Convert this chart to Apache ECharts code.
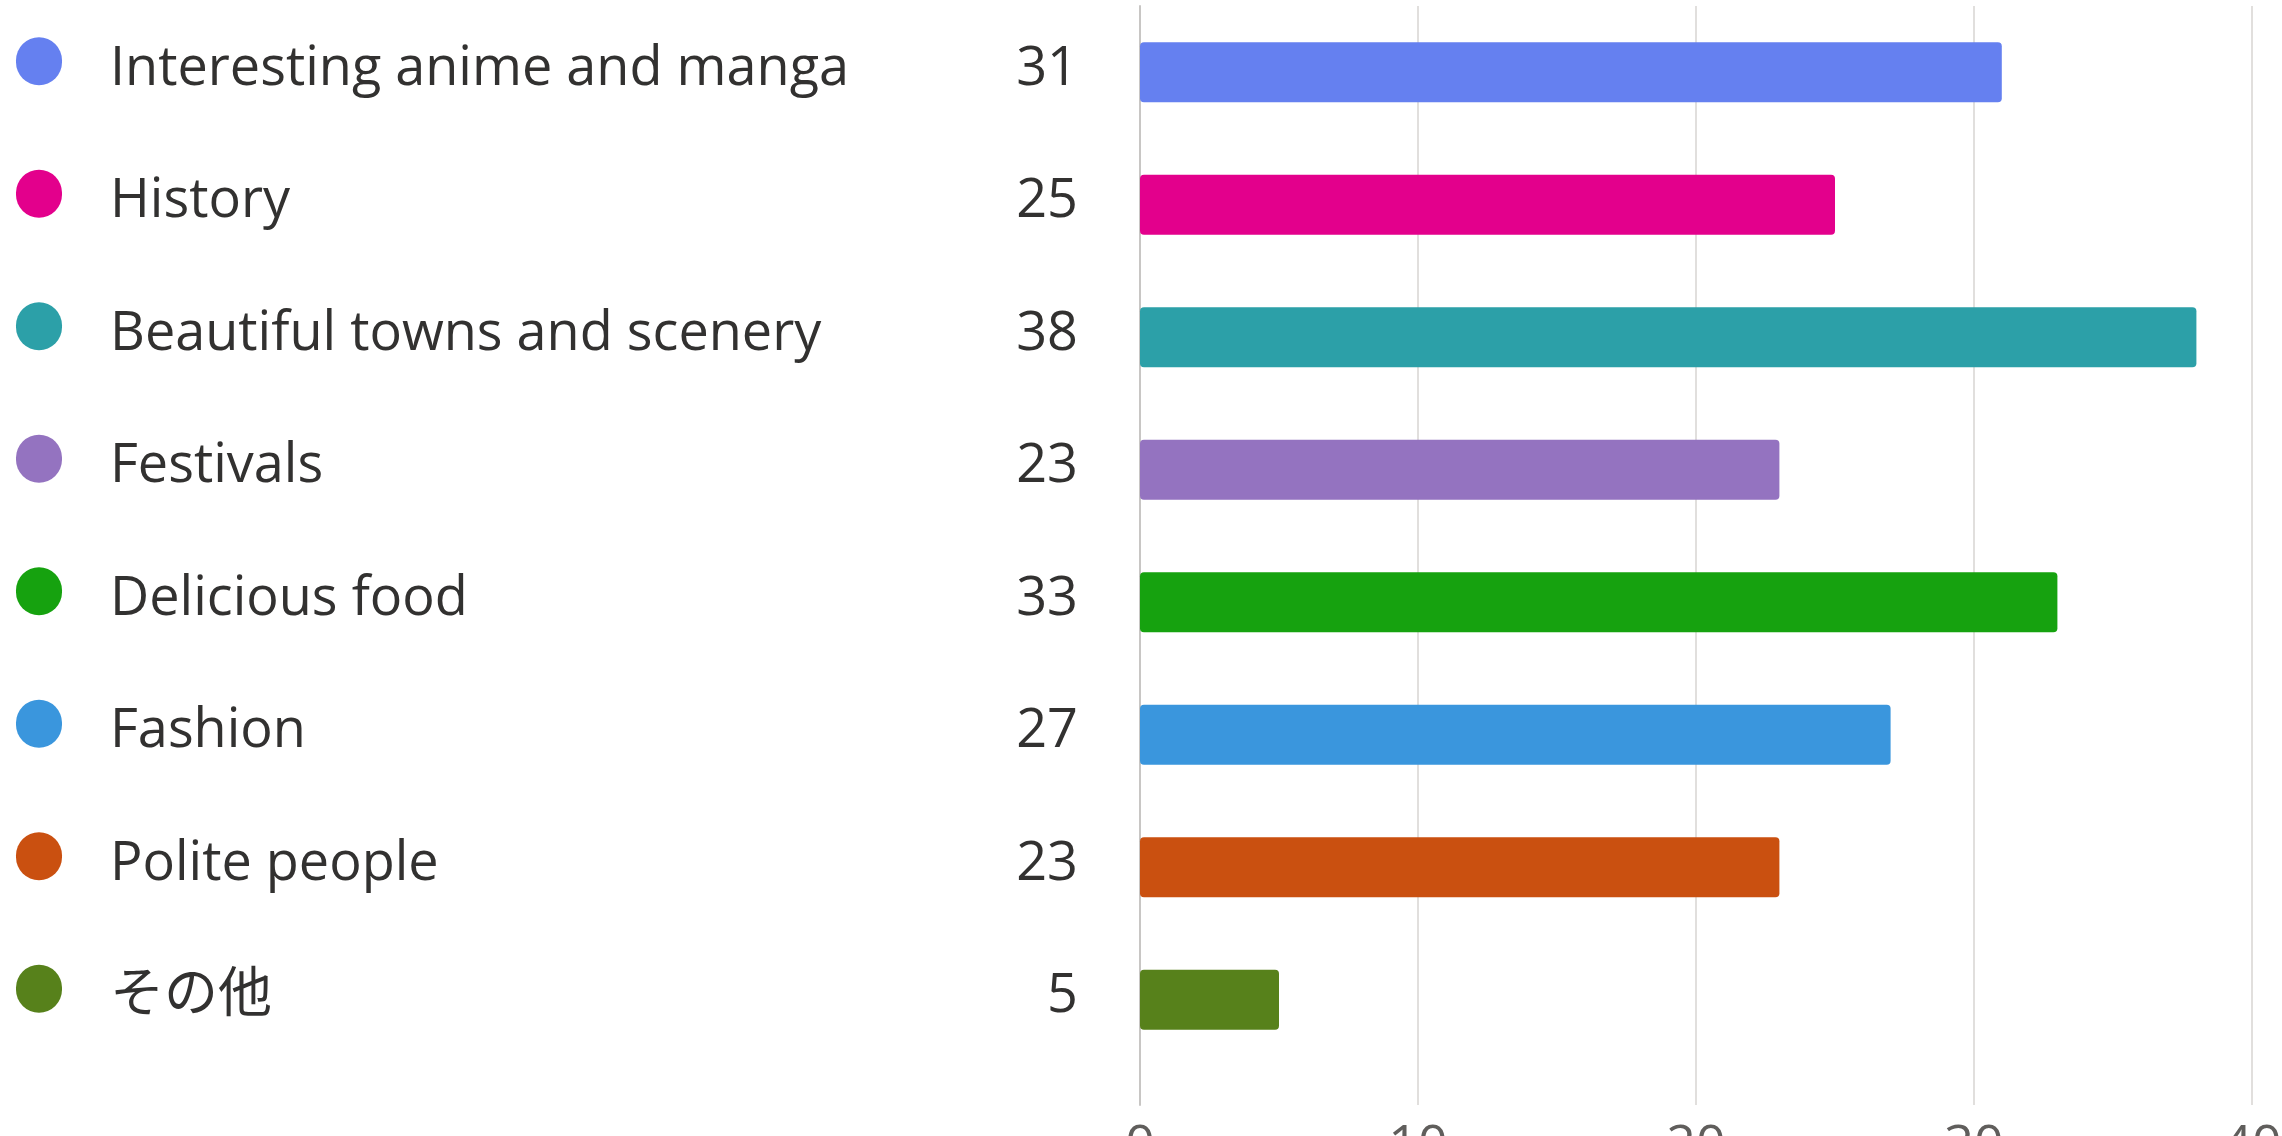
<!DOCTYPE html>
<html>
<head>
<meta charset="utf-8">
<script src="https://cdn.jsdelivr.net/npm/echarts@6/dist/echarts.min.js"></script>
<style>
  html, body { margin: 0; padding: 0; background: #fff; }
  #main { width: 2282px; height: 1136px; }
</style>
</head>
<body>
<div id="main"></div>
<script>
const categories = [
  'Interesting anime and manga',
  'History',
  'Beautiful towns and scenery',
  'Festivals',
  'Delicious food',
  'Fashion',
  'Polite people',
  'その他'
]
const counts = [31, 25, 38, 23, 33, 27, 23, 5]
const colors = ['#6580f0', '#e3008c', '#2ca0a8', '#9473c0', '#16a20f', '#3a96dd', '#ca5010', '#57811b']
const xTicks = [0, 10, 20, 30, 40]

const chartDom = document.getElementById('main')
const myChart = echarts.init(chartDom)

const FONT = '"Open Sans", "Noto Sans CJK JP", sans-serif'

// rich styles for the coloured dots in front of each label
const rich = {
  gap: { width: 48, lineHeight: 64 },
  name: { width: 848, fontSize: 54, lineHeight: 64, color: '#323130', fontFamily: FONT },
  val: { width: 120, align: 'right', fontSize: 54, lineHeight: 64, color: '#323130', fontFamily: FONT }
}
colors.forEach(function (c, i) {
  rich['d' + i] = { width: 46, height: 48, borderRadius: 24, backgroundColor: c, verticalAlign: 'top' }
})

const option = {
  backgroundColor: '#ffffff',
  animation: false,
  grid: [
    { left: 1140, right: 30, top: 6, bottom: 70, outerBoundsMode: 'none' },
    { left: 1140, right: 30, top: 6, bottom: 31, outerBoundsMode: 'none' }
  ],
  xAxis: [
    { gridIndex: 0, type: 'value', min: 0, max: 40, show: false },
    {
      gridIndex: 1,
      type: 'value',
      min: xTicks[0],
      max: xTicks[xTicks.length - 1],
      interval: 10,
      axisLine: { show: false },
      axisTick: { show: false },
      splitLine: { lineStyle: { color: '#e1dfdd', width: 2 } },
      axisLabel: { margin: 16, fontSize: 52, color: '#605e5c', fontFamily: FONT }
    }
  ],
  yAxis: [
    {
      gridIndex: 0,
      type: 'category',
      inverse: true,
      data: categories,
      axisLine: { show: false },
      axisTick: { show: false },
      axisLabel: {
        align: 'left',
        margin: 1124,
        padding: [0, 0, 6, 0],
        formatter: function (name, idx) {
          return '{d' + idx + '| }{gap| }{name|' + name + '}{val|' + counts[idx] + '}'
        },
        rich: rich
      }
    },
    {
      gridIndex: 1,
      type: 'value',
      min: 0,
      max: 1,
      axisLine: { show: true, lineStyle: { color: '#c8c6c4', width: 2 } },
      axisTick: { show: false },
      axisLabel: { show: false },
      splitLine: { show: false }
    }
  ],
  series: [
    {
      type: 'bar',
      xAxisIndex: 0,
      yAxisIndex: 0,
      barWidth: 60,
      data: counts.map(function (v, i) {
        return { value: v, itemStyle: { color: colors[i], borderRadius: 4 } }
      })
    }
  ]
}
option && myChart.setOption(option)
</script>
</body>
</html>
